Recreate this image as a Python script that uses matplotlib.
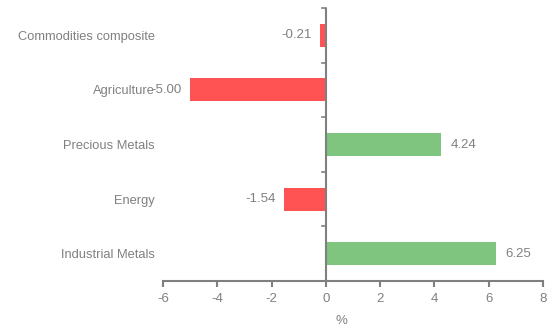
import matplotlib
matplotlib.use("Agg")
import matplotlib.pyplot as plt

categories = ["Commodities composite", "Agriculture", "Precious Metals", "Energy", "Industrial Metals"]
values = [-0.21, -5.00, 4.24, -1.54, 6.25]
xticks = [-6, -4, -2, 0, 2, 4, 6, 8]

RED = "#FF5252"
GREEN = "#80C57F"
GREY = "#7F7F7F"
TEXT = "#808080"
FS = 9.5

plt.rcParams["font.family"] = ["Liberation Sans", "DejaVu Sans"]

fig = plt.figure(figsize=(5.56, 3.27), dpi=100)
ax = fig.add_axes([163 / 556, 46 / 327, 380 / 556, 273 / 327])

n = len(categories)
pos = list(range(n))[::-1]  # first category on top
colors = [GREEN if v >= 0 else RED for v in values]
ax.barh(pos, values, height=0.42, color=colors, zorder=2)

ax.set_xlim(xticks[0], xticks[-1])
ax.set_ylim(-0.5, n - 0.5)
ax.set_xticks(xticks)
ax.set_xticklabels([str(t) for t in xticks], color=TEXT, fontsize=FS)
ax.tick_params(axis="x", direction="out", length=4, width=1.5, color=GREY, pad=5)

# category labels at the left of the plot area
ax.set_yticks(pos)
ax.set_yticklabels(categories, color=TEXT, fontsize=9.3)
ax.tick_params(axis="y", length=0, pad=6)

for s in ["top", "right", "left"]:
    ax.spines[s].set_visible(False)
ax.spines["bottom"].set_color(GREY)
ax.spines["bottom"].set_linewidth(1.5)

# vertical axis line at zero with ticks between categories
ax.axvline(0, color=GREY, lw=1.5, zorder=3)
tick_len = 4 / (380 / (xticks[-1] - xticks[0]))
for b in [i - 0.5 for i in range(n + 1)]:
    ax.plot([-tick_len, 0], [b, b], color=GREY, lw=1.2, zorder=3, clip_on=False)

# value labels
for p, v in zip(pos, values):
    if v >= 0:
        ax.annotate(f"{v:.2f}", (v, p), xytext=(7, 0), textcoords="offset points",
                    ha="left", va="center", color=TEXT, fontsize=FS)
    else:
        ax.annotate(f"{v:.2f}", (v, p), xytext=(-6, 0), textcoords="offset points",
                    ha="right", va="center", color=TEXT, fontsize=FS)

# axis unit below the tick labels
fig.text(341 / 556, 1 - 321 / 327, "%", color=TEXT, fontsize=FS,
         ha="center", va="center")

fig.savefig("out.png", dpi=100)
